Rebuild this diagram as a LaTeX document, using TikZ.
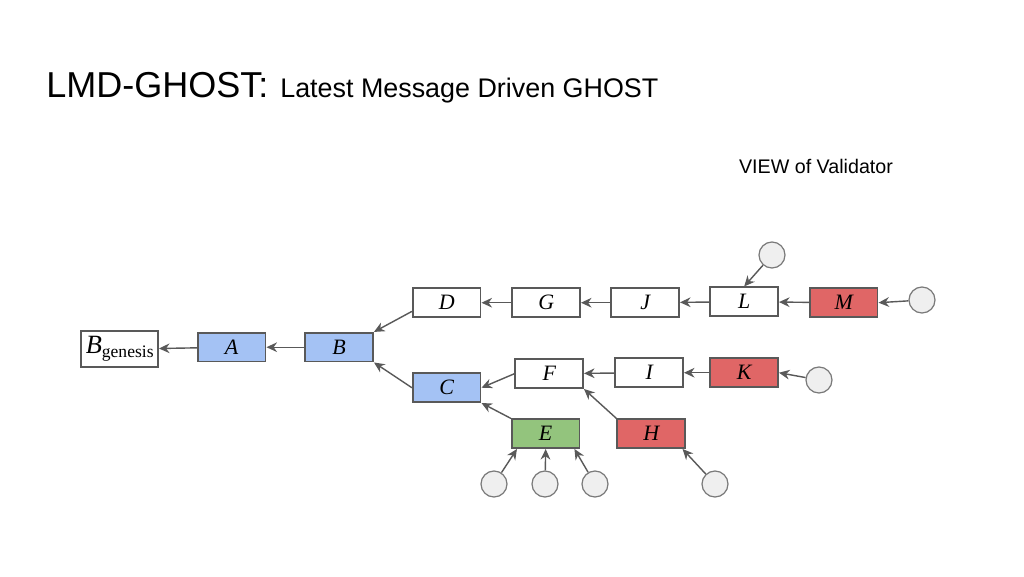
\documentclass[tikz,border=0pt]{standalone}
\usepackage{fontspec}
\setmainfont{Liberation Serif}
\setsansfont{Liberation Sans}
\usetikzlibrary{arrows.meta}

\definecolor{blockblue}{HTML}{A4C2F4}
\definecolor{blockgreen}{HTML}{93C47D}
\definecolor{blockred}{HTML}{E06666}
\definecolor{votegray}{HTML}{EFEFEF}
\definecolor{edgegray}{HTML}{595959}

\begin{document}
\begin{tikzpicture}[
        x=0.02cm, y=-0.02cm,
        block/.style={draw=edgegray, line width=0.9pt, minimum width=1.36cm, minimum height=0.58cm, inner sep=0pt, fill=white, font=\itshape\fontsize{12.5}{14}\selectfont},
        blue/.style={block, fill=blockblue},
        green/.style={block, fill=blockgreen},
        red/.style={block, fill=blockred},
        vote/.style={circle, draw=edgegray!80, line width=0.7pt, fill=votegray, minimum size=0.52cm, inner sep=0pt},
        edge/.style={draw=edgegray, line width=0.8pt, -{Stealth[length=6pt, width=5.5pt]}}
    ]

    % page frame
    \useasboundingbox[fill=white] (0,0) rectangle (1024,576);

    % --- Title ---
    \node[anchor=base west, font=\sffamily\fontsize{20.5}{24}\selectfont, inner sep=0pt] (title) at (46,97) {LMD-GHOST:};
    \node[anchor=base west, font=\sffamily\fontsize{15.3}{18}\selectfont, inner sep=0pt] (subtitle) at (280,97) {Latest Message Driven GHOST};
    \node[font=\sffamily\fontsize{11.2}{13}\selectfont] (view) at (816,166) {VIEW of Validator};

    % --- Main chain ---
    \node[block, minimum width=1.54cm, minimum height=0.72cm, font=\fontsize{10}{12}\selectfont] (gen) at (119.7,349.2)
        {{\fontsize{15}{16}\selectfont\textit{B}}\raisebox{-0.5ex}{genesis}};
    \node[blue] (A) at (231.7,347.2) {A};
    \node[blue] (B) at (339.2,347.2) {B};

    % upper branch
    \node[block] (D) at (446.7,302.7) {D};
    \node[block] (G) at (546.2,302.7) {G};
    \node[block] (J) at (645.2,302.7) {J};
    \node[block] (L) at (744.2,301.7) {L};
    \node[red] (M) at (843.7,302.7) {M};

    % lower branch
    \node[blue] (C) at (446.7,387.7) {C};
    \node[block] (F) at (549.2,373.7) {F};
    \node[block] (I) at (649.2,372.7) {I};
    \node[red] (K) at (744.2,372.7) {K};
    \node[green] (E) at (545.7,433.7) {E};
    \node[red] (H) at (651.2,433.7) {H};

    % --- Votes ---
    \node[vote] (v1) at (494,484) {};
    \node[vote] (v2) at (545,484) {};
    \node[vote] (v3) at (595,484) {};
    \node[vote] (v4) at (715,484) {};
    \node[vote] (v5) at (772,255) {};
    \node[vote] (v6) at (922,300) {};
    \node[vote] (v7) at (819,380) {};

    % --- Parent links ---
    \draw[edge] (A) -- (gen);
    \draw[edge] (B) -- (A);
    \draw[edge] (D.194) -- (B.north east);
    \draw[edge] (C.west) -- (B.south east);
    \draw[edge] (G) -- (D);
    \draw[edge] (J) -- (G);
    \draw[edge] (L) -- (J);
    \draw[edge] (M) -- (L);
    \draw[edge] (F.west) -- (C.east);
    \draw[edge] (I) -- (F);
    \draw[edge] (K) -- (I);
    \draw[edge] (E.north west) -- (C.south east);
    \draw[edge] (H.north west) -- (F.south east);

    % vote links
    \draw[edge] (v1) -- (E.-152);
    \draw[edge] (v2) -- (E.south);
    \draw[edge] (v3) -- (E.-28);
    \draw[edge] (v4) -- (H.-26);
    \draw[edge] (v5) -- (L.north);
    \draw[edge] (v6) -- (M.east);
    \draw[edge] (v7) -- (K.east);

\end{tikzpicture}
\end{document}
